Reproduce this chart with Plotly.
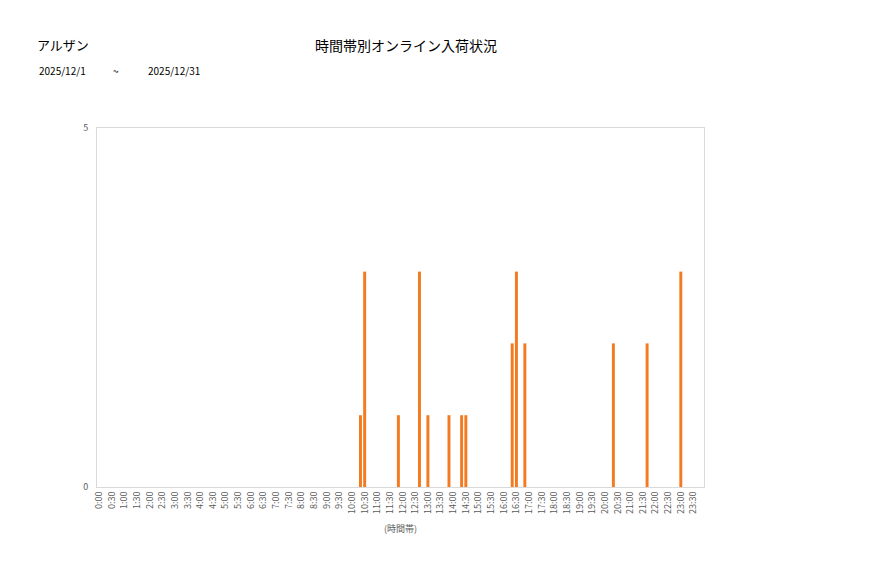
import plotly.graph_objects as go

# 10-minute time slots over the day (category axis)
time_slots = [f"{h}:{m:02d}" for h in range(24) for m in range(0, 60, 10)]
tick_labels = [f"{h}:{m:02d}" for h in range(24) for m in (0, 30)]

# slots that had arrivals, and their counts
arrival_slots = ["10:20", "10:30", "11:50", "12:40", "13:00", "13:50", "14:20",
                 "14:30", "16:20", "16:30", "16:50", "20:20", "21:40", "23:00"]
arrival_counts = [1, 3, 1, 3, 1, 1, 1, 1, 2, 3, 2, 2, 2, 3]

shop_name = "アルザン"
chart_title = "時間帯別オンライン入荷状況"
date_from = "2025/12/1"
date_to = "2025/12/31"

counts = dict(zip(arrival_slots, arrival_counts))
y_values = [counts.get(s, 0) for s in time_slots]

font_family = "Noto Sans CJK JP, Noto Sans, sans-serif"

# page has a small body offset, so shift everything by it
OFF = 7
# plot area in pixels (as seen on screen), used to place the header texts
L, R, T, B = 96, 703, 127, 486


def px_x(x):
    return (x - L) / (R - L)


def px_y(y):
    return (B - y) / (B - T)


fig = go.Figure(
    go.Bar(
        x=time_slots,
        y=y_values,
        marker=dict(color="#F47A1F", line=dict(width=0)),
    )
)

fig.update_layout(
    width=877,
    height=578,
    margin=dict(l=L - OFF, r=877 - R + OFF, t=T - OFF, b=578 - B + OFF),
    paper_bgcolor="white",
    plot_bgcolor="white",
    bargap=0.3,
    showlegend=False,
    font=dict(family=font_family, size=9, color="#595959"),
)

fig.update_xaxes(
    type="category",
    categoryorder="array",
    categoryarray=time_slots,
    tickmode="array",
    tickvals=tick_labels,
    ticktext=tick_labels,
    tickangle=-90,
    tickfont=dict(size=9, color="#595959"),
    showgrid=False,
    showline=True,
    linecolor="#D9D9D9",
    mirror=True,
    ticks="",
    title=dict(text="(時間帯)", font=dict(size=9, color="#595959"), standoff=12),
)

fig.update_yaxes(
    range=[0, 5],
    tickmode="array",
    tickvals=[0, 5],
    showgrid=False,
    zeroline=False,
    showline=True,
    linecolor="#D9D9D9",
    mirror=True,
    ticks="",
    ticklabelstandoff=6,
    tickfont=dict(size=9, color="#595959"),
)

fig.add_annotation(
    x=px_x(34), y=px_y(44), xref="paper", yref="paper",
    text=shop_name, showarrow=False, xanchor="left", yanchor="middle",
    font=dict(size=13, color="#000000", family=font_family),
)
fig.add_annotation(
    x=px_x(405), y=px_y(44), xref="paper", yref="paper",
    text=chart_title, showarrow=False, xanchor="center", yanchor="middle",
    font=dict(size=14, color="#000000", family=font_family),
)
fig.add_annotation(
    x=px_x(36), y=px_y(70), xref="paper", yref="paper",
    text=date_from, showarrow=False, xanchor="left", yanchor="middle",
    font=dict(size=10, color="#000000", family=font_family),
)
fig.add_annotation(
    x=px_x(115), y=px_y(70), xref="paper", yref="paper",
    text="~", showarrow=False, xanchor="center", yanchor="middle",
    font=dict(size=10, color="#000000", family=font_family),
)
fig.add_annotation(
    x=px_x(145), y=px_y(70), xref="paper", yref="paper",
    text=date_to, showarrow=False, xanchor="left", yanchor="middle",
    font=dict(size=10, color="#000000", family=font_family),
)

fig.write_html("out.html")
